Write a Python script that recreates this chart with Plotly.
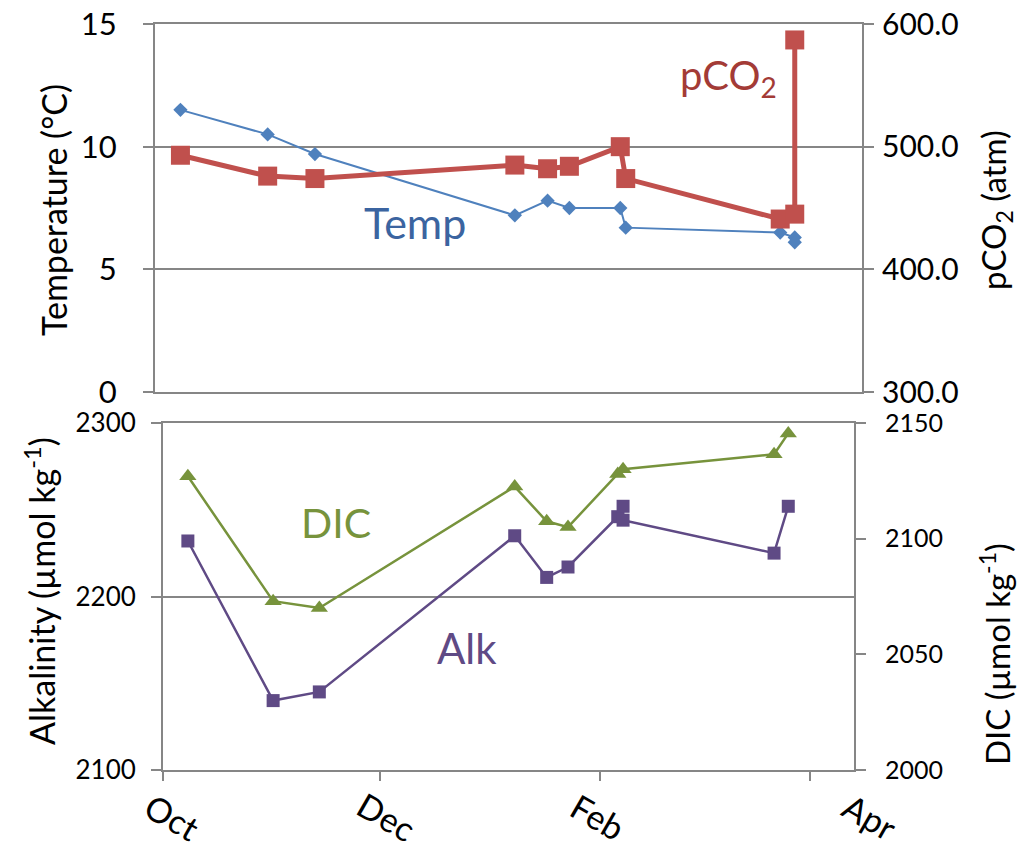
import plotly.graph_objects as go

# Sampling dates (one list per series; some days have two samples)
temp_dates = ["2010-10-08", "2010-11-01", "2010-11-14", "2011-01-08", "2011-01-17",
              "2011-01-23", "2011-02-06", "2011-02-07 12:00", "2011-03-22",
              "2011-03-26", "2011-03-26"]
temp_vals = [11.5, 10.5, 9.7, 7.2, 7.8, 7.5, 7.5, 6.7, 6.5, 6.3, 6.1]

pco2_dates = ["2010-10-08", "2010-11-01", "2010-11-14", "2011-01-08", "2011-01-17",
              "2011-01-23", "2011-02-06", "2011-02-07 12:00", "2011-03-22",
              "2011-03-26", "2011-03-26"]
pco2_vals = [493, 476, 474, 485, 482, 484, 500, 474, 441, 445, 587]

alk_dates = ["2010-10-08", "2010-11-01", "2010-11-14", "2011-01-08", "2011-01-17",
             "2011-01-23", "2011-02-06", "2011-02-07 12:00", "2011-02-07 12:00",
             "2011-03-22", "2011-03-26"]
alk_vals = [2232, 2140, 2145, 2235, 2211, 2217, 2246, 2252, 2244, 2225, 2252]

dic_dates = ["2010-10-08", "2010-11-01", "2010-11-14", "2011-01-08", "2011-01-17",
             "2011-01-23", "2011-02-06", "2011-02-07 12:00", "2011-03-22", "2011-03-26"]
dic_vals = [2127, 2073, 2070, 2122.5, 2107.5, 2105, 2128, 2130, 2136.5, 2145.5]

x_range = ["2010-10-01", "2011-04-13 12:00"]
month_ticks = ["2010-10-01", "2010-12-01", "2011-02-01", "2011-04-01"]
month_labels = ["Oct", "Dec", "Feb", "Apr"]

W, H = 1021, 849
FONT = "Lato"
GRID = "#868686"

C_TEMP, C_PCO2, C_ALK, C_DIC = "#4F81BD", "#C0504D", "#5F4A85", "#77933C"


def px_x(p):
    return p / W


def px_y(p):
    return 1 - p / H


fig = go.Figure()

fig.add_trace(go.Scatter(
    x=temp_dates, y=temp_vals, xaxis="x", yaxis="y", mode="lines+markers",
    line=dict(color=C_TEMP, width=2),
    marker=dict(symbol="diamond", size=11, color=C_TEMP), name="Temp"))
fig.add_trace(go.Scatter(
    x=pco2_dates, y=pco2_vals, xaxis="x", yaxis="y2", mode="lines+markers",
    line=dict(color=C_PCO2, width=5),
    marker=dict(symbol="square", size=19, color=C_PCO2), name="pCO2"))
fig.add_trace(go.Scatter(
    x=alk_dates, y=alk_vals, xaxis="x2", yaxis="y3", mode="lines+markers",
    line=dict(color=C_ALK, width=2.5),
    marker=dict(symbol="square", size=13, color=C_ALK), name="Alk"))
fig.add_trace(go.Scatter(
    x=dic_dates, y=dic_vals, xaxis="x2", yaxis="y4", mode="lines+markers",
    line=dict(color=C_DIC, width=2.5),
    marker=dict(symbol="triangle-up", size=15, color=C_DIC), name="DIC"))


def axis_style(size):
    return dict(showline=True, linecolor=GRID, linewidth=2,
                tickcolor=GRID, tickwidth=2, ticklen=10, ticks="outside",
                tickfont=dict(family=FONT, size=size, color="black"),
                zeroline=False, automargin=False)


top_x = [px_x(155), px_x(862)]
top_y = [px_y(392), px_y(24)]
bot_x = [px_x(163), px_x(854)]
bot_y = [px_y(770), px_y(423)]

fig.update_layout(
    width=W, height=H,
    margin=dict(l=0, r=0, t=0, b=0, pad=0, autoexpand=False),
    paper_bgcolor="white", plot_bgcolor="white", showlegend=False,
    font=dict(family=FONT, size=30, color="black"),
    xaxis=dict(domain=top_x, anchor="y", type="date", range=x_range,
               showticklabels=False, ticks="", showgrid=False,
               showline=True, mirror=True, linecolor=GRID, linewidth=2,
               zeroline=False, automargin=False),
    yaxis=dict(domain=top_y, anchor="x", range=[0, 15], dtick=5,
               showgrid=True, gridcolor=GRID, gridwidth=2,
               ticklabelstandoff=20, **axis_style(31)),
    yaxis2=dict(overlaying="y", side="right", anchor="x", range=[300, 600],
                dtick=100, tickformat=".1f", showgrid=False,
                ticklabelstandoff=2, **axis_style(30)),
    xaxis2=dict(domain=bot_x, anchor="y3", type="date", range=x_range,
                tickvals=month_ticks, showticklabels=False,
                showgrid=False, mirror=True,
                **{**axis_style(30), "ticklen": 9}),
    yaxis3=dict(domain=bot_y, anchor="x2", range=[2100, 2300], dtick=100,
                showgrid=True, gridcolor=GRID, gridwidth=2,
                ticklabelstandoff=10, **axis_style(26)),
    yaxis4=dict(overlaying="y3", side="right", anchor="x2", range=[2000, 2150],
                dtick=50, showgrid=False, ticklabelstandoff=14, **axis_style(25)),
)

# Month labels under the lower panel, slanted; the last one sits at the axis end
label_px = [172, 387, 598, 870]
annotations = [
    dict(text=lab, x=px_x(p), y=px_y(816), textangle=30,
         font=dict(family=FONT, size=34, color="black"))
    for lab, p in zip(month_labels, label_px)
]

annotations += [
    # axis titles
    dict(text="Temperature (°C)", x=px_x(54), y=px_y(210), textangle=-90,
         font=dict(family=FONT, size=34, color="black")),
    dict(text="pCO<sub>2</sub> (atm)", x=px_x(996), y=px_y(210), textangle=-90,
         font=dict(family=FONT, size=33, color="black")),
    dict(text="Alkalinity (µmol kg<sup>-1</sup>)", x=px_x(40), y=px_y(591),
         textangle=-90, font=dict(family=FONT, size=34, color="black")),
    dict(text="DIC (µmol kg<sup>-1</sup>)", x=px_x(995), y=px_y(654),
         textangle=-90, font=dict(family=FONT, size=33, color="black")),
    # series labels
    dict(text="pCO<sub>2</sub>", x=px_x(728), y=px_y(78),
         font=dict(family=FONT, size=40, color="#A33B36")),
    dict(text="Temp", x=px_x(415), y=px_y(222),
         font=dict(family=FONT, size=43, color="#3B64A0")),
    dict(text="DIC", x=px_x(336), y=px_y(522),
         font=dict(family=FONT, size=41, color=C_DIC)),
    dict(text="Alk", x=px_x(467), y=px_y(648),
         font=dict(family=FONT, size=42, color=C_ALK)),
]
for a in annotations:
    a.update(xref="paper", yref="paper", showarrow=False,
             xanchor="center", yanchor="middle")
fig.update_layout(annotations=annotations)

fig.write_html("out.html")
